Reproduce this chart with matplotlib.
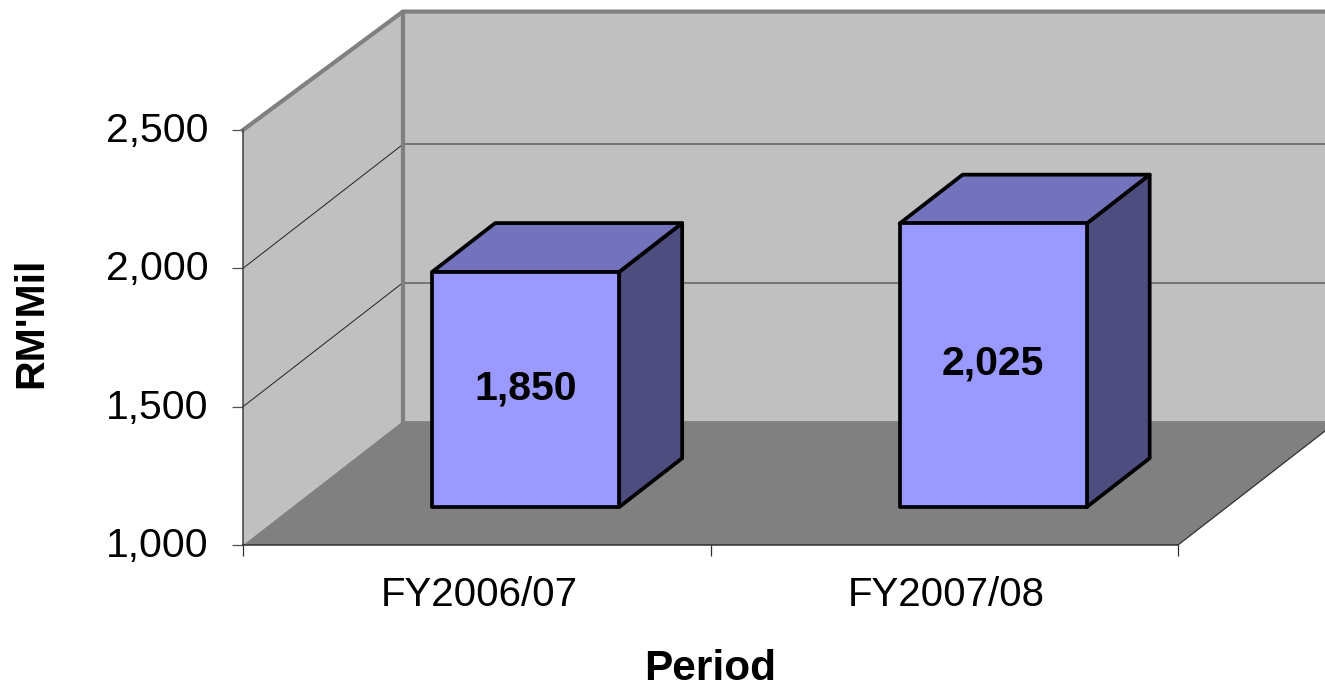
import matplotlib
matplotlib.use('Agg')
import matplotlib.pyplot as plt
from matplotlib.patches import Polygon
from matplotlib.transforms import ScaledTranslation

# Datos
periods = ['FY2006/07', 'FY2007/08']
values = [1850, 2025]
value_labels = ['1,850', '2,025']
y_ticks = [1000, 1500, 2000, 2500]
y_tick_labels = ['1,000', '1,500', '2,000', '2,500']
grid_values = [1500, 2000, 2500]

# Profundidad del falso 3D, en unidades de los ejes
DEPTH_X = 0.342
DEPTH_Y = 448
TOP_TRIM = 20
BAR_WIDTH = 0.4
BAR_D0 = 0.306
BAR_D1 = 0.70
X_MAX = 2.0
X_FAR = 2.5

WALL = '#C0C0C0'
FLOOR = '#808080'
EDGE = '#808080'
FRONT = '#9999FF'
TOP = '#7373BD'
SIDE = '#4D4D80'


def proj(x, y, d):
    return (x + d * DEPTH_X, y + d * DEPTH_Y)


def poly(ax, pts, color, z, edge='none', lw=0):
    ax.add_patch(Polygon(pts, closed=True, facecolor=color, edgecolor=edge, linewidth=lw,
                         joinstyle='round', clip_on=False, zorder=z))


plt.rcParams['font.family'] = ['Liberation Sans', 'DejaVu Sans']
fig = plt.figure(figsize=(13.25, 6.89), dpi=100)
ax = fig.add_axes([243 / 1325, 144 / 689, 935 / 1325, 415 / 689])
ax.patch.set_visible(False)
ax.set_xlim(0, X_MAX)
ax.set_ylim(y_ticks[0], y_ticks[-1])

# Paredes y suelo
y0, y1 = y_ticks[0], y_ticks[-1]
back_top = proj(0, y1 - TOP_TRIM, 1)
far_top = proj(X_FAR, y1 - TOP_TRIM, 1)
poly(ax, [proj(0, y0, 0), proj(0, y0, 1), back_top, proj(0, y1, 0)], WALL, 1)
poly(ax, [proj(0, y0, 1), proj(X_FAR, y0, 1), far_top, back_top], WALL, 1)
poly(ax, [proj(0, y0, 0), proj(X_MAX, y0, 0), proj(X_MAX, y0, 1), proj(0, y0, 1)], FLOOR, 1.5)
poly(ax, [proj(0, y0, 1), proj(X_FAR, y0, 1), proj(X_MAX, y0, 1)], FLOOR, 1.5)

# Lineas de la cuadricula
for v in grid_values[:-1]:
    a, b = proj(0, v, 0), proj(0, v, 1)
    ax.plot([a[0], b[0]], [a[1], b[1]], color='#202020', lw=0.7, clip_on=False, zorder=2)
    c = proj(X_FAR, v, 1)
    ax.plot([b[0], c[0]], [b[1], c[1]], color='#606060', lw=1.1, clip_on=False, zorder=2)

# Bordes grises de las paredes
a = proj(0, y1, 0)
ax.plot([a[0], back_top[0], far_top[0]], [a[1], back_top[1], far_top[1]], color=EDGE, lw=3,
        clip_on=False, zorder=3)
d = proj(0, y0, 1)
ax.plot([back_top[0], d[0]], [back_top[1], d[1]], color=EDGE, lw=3, clip_on=False, zorder=3)

# Borde del suelo a la derecha
a, b = proj(X_MAX, y0, 0), proj(X_MAX, y0, 1)
ax.plot([a[0], b[0]], [a[1], b[1]], color='#303030', lw=0.9, clip_on=False, zorder=3)

# Barras
for i, v in enumerate(values):
    left = i + 0.5 - BAR_WIDTH / 2
    right = i + 0.5 + BAR_WIDTH / 2
    poly(ax, [proj(right, y0, BAR_D0), proj(right, y0, BAR_D1), proj(right, v, BAR_D1), proj(right, v, BAR_D0)],
         SIDE, 4, 'black', 2.7)
    poly(ax, [proj(left, v, BAR_D0), proj(right, v, BAR_D0), proj(right, v, BAR_D1), proj(left, v, BAR_D1)],
         TOP, 4, 'black', 2.7)
    poly(ax, [proj(left, y0, BAR_D0), proj(right, y0, BAR_D0), proj(right, v, BAR_D0), proj(left, v, BAR_D0)],
         FRONT, 5, 'black', 2.7)
    cx, cy = proj(i + 0.5, (y0 + v) / 2, BAR_D0)
    ax.text(cx, cy + 5, value_labels[i], ha='center', va='center', fontsize=29.5, fontweight='bold',
            color='black', zorder=6)

# Ejes
for s in ['top', 'right']:
    ax.spines[s].set_visible(False)
ax.spines['left'].set_color('#404040')
ax.spines['bottom'].set_color('#303030')
ax.spines['left'].set_linewidth(1.1)
ax.spines['bottom'].set_linewidth(1.1)
ax.spines['left'].set_zorder(3)
ax.spines['bottom'].set_zorder(3)

ax.set_yticks(y_ticks)
ax.set_yticklabels(y_tick_labels, fontsize=29.5)
ax.tick_params(axis='y', length=8, width=0.9, color='#505050', pad=17)
up = ScaledTranslation(0, 3 / 72 * 0.72, fig.dpi_scale_trans)
for lab in ax.get_yticklabels():
    lab.set_transform(lab.get_transform() + up)

ax.set_xticks([i for i in range(len(periods) + 1)])
ax.set_xticklabels([])
ax.set_xticks([i + 0.5 for i in range(len(periods))], minor=True)
ax.set_xticklabels(periods, minor=True, fontsize=29)
ax.tick_params(axis='x', which='major', length=8, width=0.9, color='#303030')
ax.tick_params(axis='x', which='minor', length=0, pad=22)
right_shift = ScaledTranslation(0.02, 0, fig.dpi_scale_trans)
for lab in ax.get_xticklabels(minor=True):
    lab.set_transform(lab.get_transform() + right_shift)

ax.set_xlabel('Period', fontsize=30.5, fontweight='bold', labelpad=25.5)
ax.set_ylabel("RM'Mil", fontsize=29.5, fontweight='bold', labelpad=40, y=0.535)

plt.savefig('out.png', dpi=100)
